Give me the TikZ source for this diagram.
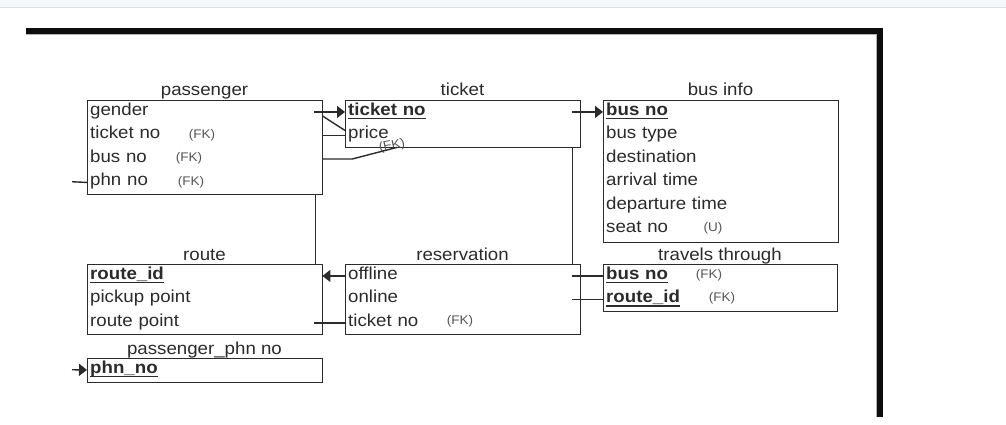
\documentclass[tikz,border=0pt]{standalone}
\usepackage{fontspec}
\setmainfont{Liberation Sans}[FakeStretch=1.08]
\usetikzlibrary{arrows.meta,calc}
\definecolor{linec}{HTML}{2B2B2B}
\definecolor{txt}{HTML}{2B2B2B}
\definecolor{fkc}{HTML}{555555}
\definecolor{band}{HTML}{F6F7F9}
\definecolor{bandline}{HTML}{DDDFE3}
\definecolor{framec}{HTML}{0D0D0D}
\newcommand\keyu[1]{\setbox0\hbox{\textbf{#1}}\rlap{\rule[-4pt]{\wd0}{1.5pt}}\box0}
\begin{document}
\begin{tikzpicture}[x=1pt,y=-1pt, font=\fontsize{17.3}{20}\selectfont,
 ent/.style={draw=linec, line width=1.4pt, inner sep=0pt, anchor=north west, minimum width=235pt},
 row/.style={anchor=north west, inner xsep=3pt, inner ysep=0pt, text width=229pt, minimum height=23.5pt, text height=12pt, text depth=5pt, align=left, text=txt},
 ttl/.style={anchor=base, text=txt, inner sep=0pt},
 fk/.style={text=fkc, font=\fontsize{12.5}{14}\selectfont, inner sep=0pt},
 conn/.style={draw=linec, line width=1.4pt},
 arr/.style={conn, -{Triangle[length=8pt,width=12pt]}}
]
\useasboundingbox (0,0) rectangle (1006,425);
\fill[white] (0,0) rectangle (1006,425);
\fill[band] (0,0) rectangle (1006,7);
\draw[bandline, line width=1pt] (0,7.5) -- (1006,7.5);
% frame
\fill[framec] (26,28) rectangle (883,34.5);
\fill[framec] (876,28) rectangle (883,417);
\draw[gray!60, line width=0.8pt] (26,34.5) -- (876,34.5) -- (876,417);

% passenger
\node[ent, minimum height=94pt] (pass) at (87,100) {};
\node[ttl] (pass-t) at (204.5,96) {passenger};
\node[row] (pass-gender) at (87,100) {gender};
\node[row] (pass-ticket) at (87,123.5) {ticket no};
\node[row] (pass-bus) at (87,147) {bus no};
\node[row] (pass-phn) at (87,170.5) {phn no};
\node[fk] (fk1) at (202,135) {(FK)};
\node[fk] (fk2) at (189,158) {(FK)};
\node[fk] (fk3) at (191,182) {(FK)};

% ticket
\node[ent, minimum height=47pt] (ticket) at (345,100) {};
\node[ttl] (ticket-t) at (462.5,96) {ticket};
\node[row] (tk-no) at (345,100) {\keyu{ticket no}};
\node[row] (tk-price) at (345,123.5) {price};

% bus info
\node[ent, minimum height=142pt] (bus) at (603,100) {};
\node[ttl] (bus-t) at (720.5,96) {bus info};
\node[row] (bi-no) at (603,100) {\keyu{bus no}};
\node[row] (bi-type) at (603,123.5) {bus type};
\node[row] (bi-dest) at (603,147) {destination};
\node[row] (bi-arr) at (603,170.5) {arrival time};
\node[row] (bi-dep) at (603,194) {departure time};
\node[row] (bi-seat) at (603,217.5) {seat no};
\node[fk] (fku) at (713,228) {(U)};

% route
\node[ent, minimum height=70pt] (route) at (87,264) {};
\node[ttl] (route-t) at (204.5,260) {route};
\node[row] (rt-id) at (87,264) {\keyu{route\_id}};
\node[row] (rt-pick) at (87,287.5) {pickup point};
\node[row] (rt-pt) at (87,311) {route point};

% reservation
\node[ent, minimum height=70pt] (res) at (345,264) {};
\node[ttl] (res-t) at (462.5,260) {reservation};
\node[row] (rs-off) at (345,264) {offline};
\node[row] (rs-on) at (345,287.5) {online};
\node[row] (rs-tk) at (345,311) {ticket no};
\node[fk] (fk4) at (460,321.5) {(FK)};

% travels through
\node[ent, minimum height=47pt, minimum width=234pt] (trav) at (603,264) {};
\node[ttl] (trav-t) at (720,260) {travels through};
\node[row] (tt-bus) at (603,264) {\keyu{bus no}};
\node[row] (tt-rt) at (603,287.5) {\keyu{route\_id}};
\node[fk] (fk5) at (709,275) {(FK)};
\node[fk] (fk6) at (722,298.5) {(FK)};

% passenger_phn no
\node[ent, minimum height=24pt] (phn) at (87,358) {};
\node[ttl] (phn-t) at (204.5,354) {passenger\_phn no};
\node[row] (ph-no) at (87,358) {\keyu{phn\_no}};

% price FK label
\node[fk, rotate=12] (fk7) at (392,146) {(FK)};

% connectors
\coordinate (phnstub) at (72,181.75);
\coordinate (phnin) at (72,369.75);
\draw[arr] ($(pass-gender.east)+(-8,0)$) -- (tk-no.west);
\draw[conn] ($(pass-gender.east)+(0,4)$) -- ($(tk-price.west)+(0,-5)$);
\draw[conn] (pass-ticket.east) -- (tk-price.west);
\draw[conn] (pass-bus.east) -- ($(pass-bus.east)+(30,0)$) -- ($(tk-price.south west)+(52,0)$);
\draw[arr] ($(tk-no.east)+(-8,0)$) -- (bi-no.west);
\draw[conn] ($(ticket.south east)+(-9,0)$) -- ($(res.north east)+(-9,0)$);
\draw[conn] ($(pass.south east)+(-8,0)$) -- ($(route.north east)+(-8,0)$);
\draw[arr] (rs-off.west) -- (rt-id.east);
\draw[conn] ($(rt-pt.east)+(-8,0)$) -- (rs-tk.west);
\draw[conn] ($(rs-off.east)+(-8,0)$) -- (tt-bus.west);
\draw[conn] ($(rs-on.east)+(-8,0)$) -- (tt-rt.west);
\draw[conn] (phnstub) -- (pass-phn.west);
\draw[arr] (phnin) -- (ph-no.west);
\end{tikzpicture}
\end{document}
